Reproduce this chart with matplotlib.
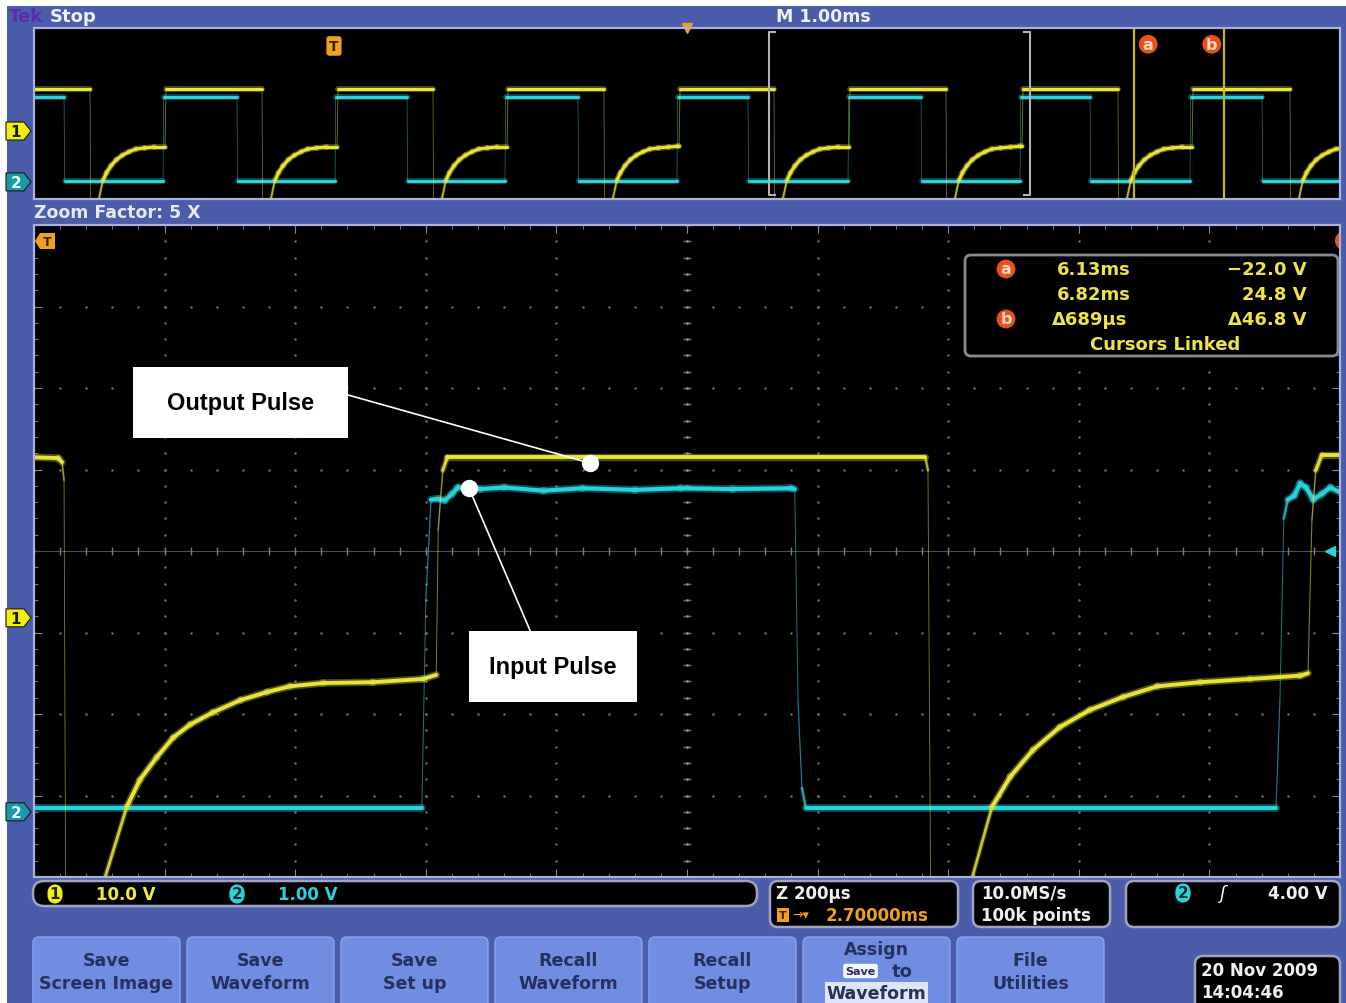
import numpy as np
import matplotlib
matplotlib.use('Agg')
import matplotlib.pyplot as plt
from matplotlib.collections import LineCollection
from matplotlib.patches import FancyBboxPatch, Rectangle, Ellipse, Polygon
from matplotlib.colors import to_rgba

plt.rcParams['font.family'] = ['DejaVu Sans']

# ---- scope settings ----
CH1_VDIV = 10.0      # V/div
CH2_VDIV = 1.0
CH1_POS = -0.82      # div
CH2_POS = -3.2
REC_START = -2297    # us, relative to trigger
REC_SPAN = 10000
ZOOM_START = 3330
ZOOM_SPAN = 2000
EXPAND_AT = 2700
CURSOR_A = 6128
CURSOR_B = 6817
CURSOR_A_V = -22.0
CURSOR_B_V = 24.8
TRIG_LEVEL = 4.00

# ---- zoomed traces (us, V) ----
ch1_t = [3330, 3367, 3373, 3376, 3379, 3436, 3439, 3472, 3492, 3518, 3543, 3569,
         3604, 3646, 3687, 3722, 3773, 3849, 3926, 3946, 3949, 3956, 3963, 4695,
         4699, 4704, 4763, 4767, 4797, 4825, 4860, 4901, 4947, 4998, 5050, 5116,
         5192, 5269, 5281, 5287, 5293, 5302, 5330]
ch1_v = [19.7, 19.6, 19.1, 16.9, -45, -45, -31.8, -23.2, -19.9, -17.1, -14.7, -13.1,
         -11.6, -10.1, -9.1, -8.4, -8.0, -7.9, -7.5, -7.0, 10.8, 18.1, 19.7, 19.7,
         18.1, -45, -45, -31.8, -23.2, -19.5, -16.2, -13.4, -11.3, -9.7, -8.4, -7.9,
         -7.5, -7.1, -6.8, 12.0, 18.1, 20.0, 20.0]

ch2_t = [3330, 3924, 3930, 3938, 3949, 3959, 3970, 3979, 4013, 4050, 4110, 4170,
         4250, 4320, 4400, 4490, 4495, 4500, 4506, 4512, 5232, 5238, 5244, 5250,
         5260, 5269, 5278, 5289, 5302, 5315, 5330]
ch2_v = [0.05, 0.05, 2.6, 3.83, 3.84, 3.82, 3.9, 3.98, 3.96, 3.98, 3.94, 3.97,
         3.95, 3.97, 3.96, 3.97, 3.96, 1.37, 0.29, 0.05, 0.05, 1.37, 3.6, 3.83,
         3.88, 4.03, 3.98, 3.83, 3.9, 3.98, 3.92]

# ---- full record (overview) ----
ov_ch1_rise = [-1294, 23, 1325, 2642, 3943, 5268, 6570]
ov_ch1_fall = [-1868, -551, 758, 2067, 3369, 4686, 6003, 7320]
ov_ch2_rise = [-1309, 8, 1309, 2626, 3936, 5253, 6554]
ov_ch2_fall = [-2067, -743, 559, 1868, 3170, 4495, 5789, 7106]
ch1_high = 19.7
ch2_high = 3.96
ch2_low = 0.05
# output recovery after each falling edge (us after fall, V)
rec_dt = [68, 98, 126, 161, 202, 248, 299, 351, 417, 493, 570]
rec_v = [-31.8, -23.2, -19.5, -16.2, -13.4, -11.3, -9.7, -8.4, -7.9, -7.5, -7.1]

buttons = [('Save', 'Screen Image'), ('Save', 'Waveform'), ('Save', 'Set up'),
           ('Recall', 'Waveform'), ('Recall', 'Setup'), None, ('File', 'Utilities')]

BLUE = '#4a5caa'
BTN = '#6f8ee2'
BTN_TXT = '#26305e'
YEL = '#e8e43a'
CYAN = '#2ad2dc'
ORANGE = '#f0a020'
CUR_RED = '#e8501e'
BORDER = '#a9b1dc'

W, H = 1346, 1004
fig = plt.figure(figsize=(W / 100, H / 100), dpi=100, facecolor='white')


def pane(l, t, r, b, zorder=0):
    return fig.add_axes([l / W, 1 - b / H, (r - l) / W, (b - t) / H], zorder=zorder)


bg = fig.add_axes([0, 0, 1, 1], zorder=-1)
bg.set_xlim(0, W)
bg.set_ylim(H, 0)
bg.axis('off')
bg.add_patch(Rectangle((7, 7), W - 7, H - 7, fc=BLUE, ec='none'))

top = fig.add_axes([0, 0, 1, 1], zorder=5)
top.set_xlim(0, W)
top.set_ylim(H, 0)
top.axis('off')
top.patch.set_alpha(0)

main = pane(34, 226, 1340, 878)
ov = pane(34, 29, 1340, 200)

main.set_xlim(ZOOM_START, ZOOM_START + ZOOM_SPAN)
main.set_ylim(-4, 4)
ov.set_xlim(REC_START, REC_START + REC_SPAN)
ov.set_ylim(-4, 4)
for a in (main, ov):
    a.set_facecolor('black')
    for s in a.spines.values():
        s.set_color(BORDER)
        s.set_linewidth(1.6)

# graticule
main.set_xticks(np.arange(ZOOM_START, ZOOM_START + ZOOM_SPAN + 1, ZOOM_SPAN / 10))
main.set_xticks(np.arange(ZOOM_START, ZOOM_START + ZOOM_SPAN + 1, ZOOM_SPAN / 50), minor=True)
main.set_yticks(np.arange(-4, 5, 1))
main.set_yticks(np.arange(-4, 4.01, 0.2), minor=True)
main.tick_params(which='both', direction='in', top=True, right=True,
                 labelbottom=False, labelleft=False, color='#8088b8')
main.tick_params(which='major', length=6)
main.tick_params(which='minor', length=3)
ov.set_xticks([])
ov.set_yticks([])

xdiv = ZOOM_START + np.arange(1, 10) * ZOOM_SPAN / 10
xdots = np.arange(ZOOM_START, ZOOM_START + ZOOM_SPAN, ZOOM_SPAN / 50)
ydots = np.arange(-4, 4.01, 0.2)
xc = ZOOM_START + ZOOM_SPAN / 2
for x in xdiv:
    if abs(x - xc) > 1:
        main.plot(np.full_like(ydots, x), ydots, ls='none', marker='.', ms=1.6, color='#6c6c6c')
for y in range(-3, 4):
    if y != 0:
        main.plot(xdots, np.full_like(xdots, y), ls='none', marker='.', ms=1.6, color='#6c6c6c')
main.axhline(0, color='#4e4e4e', lw=0.8)
main.plot(xdots, np.zeros_like(xdots), ls='none', marker='|', ms=6, color='#7a7a7a')
main.plot(np.full_like(ydots, xc), ydots, ls='none', marker='_', ms=6, color='#6e6e6e')
main.plot(np.full_like(ydots, xc), ydots, ls='none', marker='.', ms=2, color='#8a8a8a')


def draw_trace(ax, t, v, vdiv, pos, color, wide, thin):
    xy = np.column_stack([np.asarray(t, float), np.asarray(v, float) / vdiv + pos])
    px = ax.transData.transform(xy)
    segs = np.stack([xy[:-1], xy[1:]], axis=1)
    dx = np.abs(np.diff(px[:, 0]))
    dy = np.abs(np.diff(px[:, 1]))
    slope = dy / np.maximum(dx, 1e-6)
    frac = np.clip(2.2 / np.maximum(slope, 1e-6), 0, 1)
    lw = thin + (wide - thin) * frac
    rgba = np.tile(to_rgba(color), (len(segs), 1))
    rgba[:, 3] = 0.55 + 0.45 * frac
    glow = rgba.copy()
    glow[:, 3] = 0.35 * frac
    ax.add_collection(LineCollection(segs, linewidths=lw * 1.9, colors=glow, capstyle='round'))
    ax.add_collection(LineCollection(segs, linewidths=lw, colors=rgba, capstyle='round'))


def overview_ch1():
    ev = sorted([(x, 1) for x in ov_ch1_rise] + [(x, 0) for x in ov_ch1_fall])
    t, v = [REC_START], [ch1_high]
    for i, (te, rising) in enumerate(ev):
        if rising:
            t += [te, te + 8]
            v += [v[-1], ch1_high]
        else:
            nxt = ev[i + 1][0] if i + 1 < len(ev) else np.inf
            t += [te, te + 5]
            v += [ch1_high, -45]
            for dt, val in zip(rec_dt, rec_v):
                if te + dt < nxt - 4:
                    t.append(te + dt)
                    v.append(val)
    return t, v


def overview_ch2():
    ev = sorted([(x, 1) for x in ov_ch2_rise] + [(x, 0) for x in ov_ch2_fall])
    t, v = [REC_START], [ch2_high]
    for te, rising in ev:
        t += [te, te + 5]
        v += [ch2_low, ch2_high] if rising else [ch2_high, ch2_low]
    t.append(REC_START + REC_SPAN)
    v.append(v[-1])
    return t, v


t2, v2 = overview_ch2()
draw_trace(ov, t2, v2, CH2_VDIV, CH2_POS, CYAN, 2.2, 0.5)
t1, v1 = overview_ch1()
draw_trace(ov, t1, v1, CH1_VDIV, CH1_POS, YEL, 2.2, 0.5)

draw_trace(main, ch2_t, ch2_v, CH2_VDIV, CH2_POS, CYAN, 3.0, 0.6)
draw_trace(main, ch1_t, ch1_v, CH1_VDIV, CH1_POS, YEL, 2.8, 0.6)

# overview: zoom bracket, cursors, markers
xa = ov.get_xaxis_transform()
z0, z1 = ZOOM_START, ZOOM_START + ZOOM_SPAN
ov.plot([z0 + 46, z0, z0, z0 + 46], [0.975, 0.975, 0.025, 0.025], transform=xa, color='#b4b4b4', lw=1.5)
ov.plot([z1 - 46, z1, z1, z1 - 46], [0.975, 0.975, 0.025, 0.025], transform=xa, color='#b4b4b4', lw=1.5)
for c in (CURSOR_A, CURSOR_B):
    ov.axvline(c, color='#c8b428', lw=1.6)
for c, lab, off in ((CURSOR_A, 'a', 10), (CURSOR_B, 'b', -9)):
    ov.annotate(lab, xy=(c, 0.905), xycoords=xa, xytext=(off, 0), textcoords='offset points',
                ha='center', va='center', fontsize=11.5, fontweight='bold', color='#ffd6c0',
                bbox=dict(boxstyle='circle,pad=0.12', fc=CUR_RED, ec='none'))
ov.annotate('T', xy=(0, 0.895), xycoords=xa, ha='center', va='center', fontsize=10,
            fontweight='bold', color='#3a2200',
            bbox=dict(boxstyle='round,pad=0.2', fc=ORANGE, ec='none'))
ov.plot([EXPAND_AT], [1.0], transform=xa, marker='v', ms=7, color=ORANGE, clip_on=False)

# main: trigger level and off-screen cursor marker
main.plot([ZOOM_START + ZOOM_SPAN * 0.992], [0], marker='<', ms=7, color=CYAN)
main.add_patch(Ellipse((1.003, 0.976), 18 / 1306, 18 / 652, transform=main.transAxes,
                       fc=CUR_RED, ec='none'))

# callouts
main.add_patch(Rectangle((3482, 1.387), 329, 0.871, fc='white', ec='none', zorder=10))
main.text(3646, 1.82, 'Output Pulse', ha='center', va='center', fontsize=17,
          family='Liberation Sans', fontweight='bold', color='black', zorder=11)
main.plot([3811, 4181], [1.914, 1.08], color='white', lw=1.2, zorder=10)
main.plot([4181], [1.08], marker='o', ms=11.5, color='white', zorder=11)
main.add_patch(Rectangle((3996, -1.853), 257, 0.871, fc='white', ec='none', zorder=10))
main.text(4125, -1.418, 'Input Pulse', ha='center', va='center', fontsize=17,
          family='Liberation Sans', fontweight='bold', color='black', zorder=11)
main.plot([4090, 3996], [-0.982, 0.773], color='white', lw=1.2, zorder=10)
main.plot([3996], [0.773], marker='o', ms=11.5, color='white', zorder=11)


# channel tags on the left edge
def chan_tag(ax, pos, label, fc, tc):
    y = H - ax.transData.transform((0, pos))[1]
    top.add_patch(Polygon([(6, y - 9), (24, y - 9), (31, y), (24, y + 9), (6, y + 9)],
                          closed=True, fc=fc, ec='#1a1a1a', lw=0.8))
    top.text(16, y + 0.5, label, ha='center', va='center', fontsize=11, fontweight='bold', color=tc)


for ax in (ov, main):
    chan_tag(ax, CH1_POS, '1', '#f2ee10', '#1a1a00')
    chan_tag(ax, CH2_POS, '2', '#1a9aa6', '#e8ffff')

# trigger off-screen marker in zoom view
top.add_patch(Polygon([(35, 242), (40, 234), (55, 234), (55, 250), (40, 250)], closed=True,
                      fc=ORANGE, ec='none'))
top.text(47, 242.5, 'T', ha='center', va='center', fontsize=9, fontweight='bold', color='#3a2200')

# header
bg.text(9, 17, 'Tek', color='#5a2cae', fontsize=13, fontweight='bold', va='center')
bg.text(50, 17, 'Stop', color='#eef0ff', fontsize=13, fontweight='bold', va='center')
bg.text(776, 17, f'M {REC_SPAN / 10000:.2f}ms', color='#eef0ff', fontsize=12.5,
        fontweight='bold', va='center')
bg.text(34, 213, f'Zoom Factor: {REC_SPAN // ZOOM_SPAN} X', color='#e6e8f4', fontsize=12.5,
        fontweight='bold', va='center')

# cursor readout
top.add_patch(FancyBboxPatch((965, 256), 373, 101, boxstyle='round,pad=0,rounding_size=6',
                             fc='black', ec='#8a8a96', lw=2))
for yy, lab in ((270, 'a'), (320, 'b')):
    top.text(1006, yy, lab, ha='center', va='center', fontsize=11.5, fontweight='bold', color='#ffd6c0',
             bbox=dict(boxstyle='circle,pad=0.12', fc=CUR_RED, ec='none'))
ctxt = dict(color='#ece44a', fontsize=13, fontweight='bold', va='center')
top.text(1057, 270, f'{CURSOR_A / 1000:.2f}ms', **ctxt)
top.text(1057, 295, f'{CURSOR_B / 1000:.2f}ms', **ctxt)
top.text(1052, 320, f'Δ{CURSOR_B - CURSOR_A}μs', **ctxt)
top.text(1307, 270, f'{CURSOR_A_V:.1f} V'.replace('-', '−'), ha='right', **ctxt)
top.text(1307, 295, f'{CURSOR_B_V:.1f} V', ha='right', **ctxt)
top.text(1307, 320, f'Δ{CURSOR_B_V - CURSOR_A_V:.1f} V', ha='right', **ctxt)
top.text(1165, 345, 'Cursors Linked', ha='center', **ctxt)


# status readouts
def readout_box(x, y, w, h, r=8):
    bg.add_patch(FancyBboxPatch((x, y), w, h, boxstyle=f'round,pad=0,rounding_size={r}',
                                fc='black', ec='#a0a4c0', lw=1.8))


readout_box(33, 882, 724, 25, r=11)
readout_box(770, 882, 188, 46)
readout_box(973, 882, 137, 46)
readout_box(1126, 882, 214, 46)

pill = dict(ha='center', va='center', fontsize=11, fontweight='bold')
bg.text(55, 895, '1', color='#202000', bbox=dict(boxstyle='round,pad=0.15,rounding_size=0.6', fc='#f2ee10', ec='none'), **pill)
bg.text(96, 895, f'{CH1_VDIV:.1f} V', color='#f0ec30', fontsize=12, fontweight='bold', va='center')
bg.text(237, 895, '2', color='#102a30', bbox=dict(boxstyle='round,pad=0.15,rounding_size=0.6', fc=CYAN, ec='none'), **pill)
bg.text(278, 895, f'{CH2_VDIV:.2f} V', color=CYAN, fontsize=12, fontweight='bold', va='center')

rtxt = dict(color='#f0f0f0', fontsize=12, fontweight='bold', va='center')
bg.text(776, 894, f'Z {ZOOM_SPAN // 10}μs', **rtxt)
bg.text(783, 916, 'T', ha='center', va='center', fontsize=8, fontweight='bold', color='#3a2200',
        bbox=dict(boxstyle='square,pad=0.15', fc=ORANGE, ec='none'))
bg.text(792, 916, '→▾', color=ORANGE, fontsize=9, va='center')
bg.text(826, 916, f'{EXPAND_AT / 1000:.5f}ms', color=ORANGE, fontsize=12, fontweight='bold', va='center')
bg.text(981, 894, '10.0MS/s', **rtxt)
bg.text(981, 916, '100k points', **rtxt)
bg.text(1183, 894, '2', color='#102a30', bbox=dict(boxstyle='round,pad=0.15,rounding_size=0.6', fc=CYAN, ec='none'), **pill)
bg.text(1222, 894, 'ʃ', color='white', fontsize=13, fontstyle='italic', ha='center', va='center')
bg.text(1328, 894, f'{TRIG_LEVEL:.2f} V', ha='right', **rtxt)

# soft buttons
btn_x = [33, 187, 341, 495, 649, 803, 957]
btxt = dict(ha='center', va='center', fontsize=12.5, fontweight='bold', color=BTN_TXT)
for x, lab in zip(btn_x, buttons):
    bg.add_patch(FancyBboxPatch((x, 938), 147, 90, boxstyle='round,pad=0,rounding_size=6',
                                fc=BTN, ec='#8aa4ee', lw=1))
    if lab:
        bg.text(x + 73.5, 961, lab[0], **btxt)
        bg.text(x + 73.5, 984, lab[1], **btxt)
bx = btn_x[5] + 73.5
bg.text(bx, 950, 'Assign', **btxt)
bg.text(bx - 16, 972, 'Save', ha='center', va='center', fontsize=8, fontweight='bold', color=BTN_TXT,
        bbox=dict(boxstyle='round,pad=0.2', fc='#f4f6ff', ec='none'))
bg.text(bx + 26, 972, 'to', ha='center', va='center', fontsize=13, fontweight='bold', color=BTN_TXT)
bg.text(bx, 994, 'Waveform', ha='center', va='center', fontsize=12.5, fontweight='bold', color=BTN_TXT,
        bbox=dict(boxstyle='square,pad=0.1', fc='#dfe5f8', ec='none'))

# date
readout_box(1195, 957, 145, 60)
bg.text(1201, 971, '20 Nov 2009', **rtxt)
bg.text(1201, 993, '14:04:46', **rtxt)

fig.savefig('out.png', dpi=100, facecolor=fig.get_facecolor())
